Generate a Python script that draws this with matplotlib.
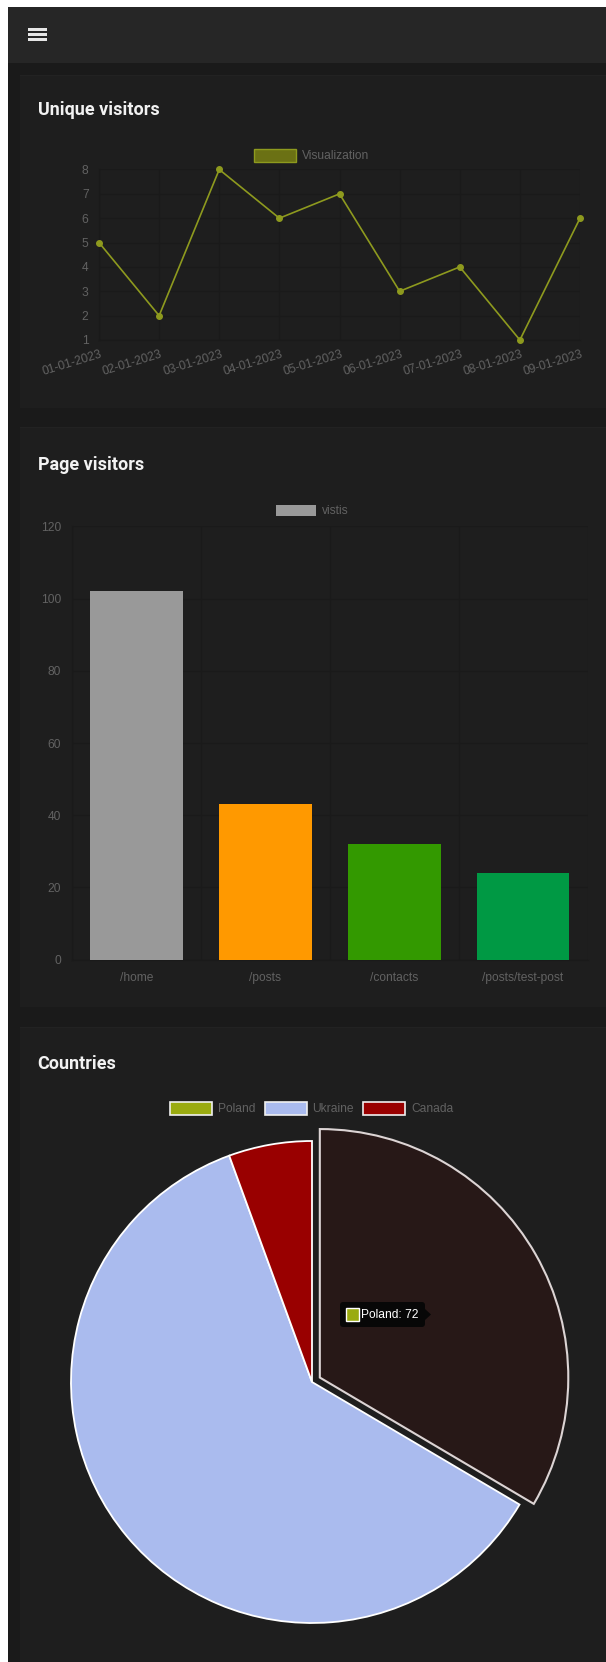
import matplotlib
matplotlib.use("Agg")
import matplotlib.pyplot as plt
from matplotlib.patches import Rectangle, FancyBboxPatch, Polygon
from matplotlib.transforms import ScaledTranslation

# ---------------- data ----------------
dates = ["01-01-2023", "02-01-2023", "03-01-2023", "04-01-2023", "05-01-2023",
         "06-01-2023", "07-01-2023", "08-01-2023", "09-01-2023"]
visitors = [5, 2, 8, 6, 7, 3, 4, 1, 6]
visitors_label = "Visualization"
visitor_yticks = [1, 2, 3, 4, 5, 6, 7, 8]

pages = ["/home", "/posts", "/contacts", "/posts/test-post"]
page_visits = [102, 43, 32, 24]
page_label = "vistis"
page_colors = ["#999999", "#ff9900", "#339900", "#009944"]
page_yticks = [0, 20, 40, 60, 80, 100, 120]

countries = ["Poland", "Ukraine", "Canada"]
country_values = [72, 131, 12]
country_colors = ["#9aab10", "#aabbee", "#990000"]
tooltip_text = "Poland: 72"

# ---------------- layout helpers ----------------
W, H = 606, 1662
PX = 0.72  # px -> pt at dpi 100
fig = plt.figure(figsize=(W / 100, H / 100), dpi=100)
fig.patch.set_facecolor("white")

TXT = "#626262"
GRID = "#1a1a1a"
CARD = "#1e1e1e"
FONT = ["Liberation Sans", "DejaVu Sans"]
TFONT = ["Roboto", "DejaVu Sans"]


def frac(x0, y0, x1, y1):
    return [x0 / W, 1 - y1 / H, (x1 - x0) / W, (y1 - y0) / H]


bg = fig.add_axes([0, 0, 1, 1], zorder=0)
bg.set_xlim(0, W)
bg.set_ylim(H, 0)
bg.axis("off")

bg.add_patch(Rectangle((8, 7), W - 8, H - 7, fc="#1a1a1a", ec="none"))
bg.add_patch(Rectangle((8, 7), W - 8, 56, fc="#262626", ec="none"))
for yy in (28.3, 33.3, 38.3):
    bg.add_patch(Rectangle((27.5, yy), 19, 2.4, fc="#e6e6e6", ec="none"))
for (y0, y1) in ((75, 408), (427, 1007), (1027, H)):
    bg.add_patch(Rectangle((20, y0), W - 20, y1 - y0, fc=CARD, ec="none"))
    bg.plot([20, W], [y0, y0], color="#222222", lw=0.8)

title_kw = dict(color="#f2f2f2", fontsize=18.0 * PX, fontweight="bold",
                family=TFONT, va="baseline", ha="left")
bg.text(37.5, 115, "Unique visitors", **title_kw)
bg.text(37.5, 470, "Page visitors", **title_kw)
bg.text(37.5, 1069, "Countries", **title_kw)

lab_kw = dict(color=TXT, fontsize=12 * PX, family=FONT, va="center", ha="left")

# legend line chart
bg.add_patch(Rectangle((254, 149), 42, 13, fc="#6b7114", ec="#8e9a1e", lw=1.0))
bg.text(301.5, 155.8, visitors_label, **lab_kw)
# legend bar chart
bg.add_patch(Rectangle((275.6, 505), 40.2, 11.4, fc=page_colors[0], ec="none"))
bg.text(322, 511, page_label, **lab_kw)
# legend pie chart
for x0, tx, name, col in zip((170, 265, 363), (218, 312, 411), countries, country_colors):
    bg.add_patch(Rectangle((x0, 1102), 42, 13, fc=col, ec="#f0f0f0", lw=1.2))
    bg.text(tx, 1108.8, name, **lab_kw)

# ---------------- line chart ----------------
ax1 = fig.add_axes(frac(99, 169.5, 580, 340), zorder=2)
ax1.set_facecolor("none")
xs = list(range(len(dates)))
ax1.plot(xs, visitors, color="#8e9a1e", lw=1.2, marker="o", ms=4.0,
         mfc="#8e9a1e", mec="#8e9a1e", clip_on=False, zorder=3)
ax1.set_xlim(0, len(dates) - 1)
ax1.set_ylim(1, 8)
ax1.set_xticks(xs)
ax1.set_yticks(visitor_yticks)
ax1.set_xticklabels(dates, rotation=17, ha="right", va="center",
                    rotation_mode="anchor", family=FONT, fontsize=12 * PX, color=TXT)
ax1.set_yticklabels([str(v) for v in visitor_yticks], family=FONT,
                    fontsize=12 * PX, color=TXT)
ax1.tick_params(axis="x", length=0, pad=10)
ax1.tick_params(axis="y", length=0, pad=7.5)
for lab in ax1.get_xticklabels():
    lab.set_transform(lab.get_transform() + ScaledTranslation(3 / 100, 0, fig.dpi_scale_trans))
ax1.grid(True, color=GRID, lw=1)
for s in ax1.spines.values():
    s.set_color(GRID)
ax1.spines["top"].set_visible(False)
ax1.spines["right"].set_visible(False)

# ---------------- bar chart ----------------
ax2 = fig.add_axes(frac(72, 526.4, 587.5, 959.6), zorder=2)
ax2.set_facecolor("none")
bx = list(range(len(pages)))
ax2.bar(bx, page_visits, width=0.72, color=page_colors, zorder=3)
ax2.set_xlim(-0.5, len(pages) - 0.5)
ax2.set_ylim(0, 120)
ax2.set_xticks(bx)
ax2.set_xticks([i - 0.5 for i in range(len(pages) + 1)], minor=True)
ax2.set_yticks(page_yticks)
ax2.set_xticklabels(pages, family=FONT, fontsize=12 * PX, color=TXT, va="center")
ax2.set_yticklabels([str(v) for v in page_yticks], family=FONT,
                    fontsize=12 * PX, color=TXT)
ax2.tick_params(axis="x", which="both", length=0, pad=13.5)
ax2.tick_params(axis="y", length=0, pad=8)
ax2.grid(True, axis="y", color=GRID, lw=1)
ax2.grid(True, axis="x", which="minor", color=GRID, lw=1)
ax2.grid(False, axis="x", which="major")
for s in ax2.spines.values():
    s.set_color(GRID)
ax2.spines["top"].set_visible(False)
ax2.spines["right"].set_visible(False)

# ---------------- pie chart ----------------
R = 241.0
ext = 290.0
ax3 = fig.add_axes(frac(312 - ext, 1382 - ext, 312 + ext, 1382 + ext), zorder=2)
ax3.set_facecolor("none")
wedges, _ = ax3.pie(country_values, colors=country_colors, startangle=90,
                    counterclock=False, explode=[9 / R, 0, 0], radius=1,
                    wedgeprops=dict(edgecolor="white", linewidth=1.3))
ax3.set_xlim(-ext / R, ext / R)
ax3.set_ylim(-ext / R, ext / R)
ax3.set_aspect("equal")
ax3.axis("off")
# hovered Poland slice
wedges[0].set_radius(1.031)
wedges[0].set_facecolor("#271817")
wedges[0].set_edgecolor("#dcd4d4")
wedges[0].set_linewidth(1.5)
for w in wedges:
    w.set_clip_on(False)

# ---------------- tooltip ----------------
ov = fig.add_axes([0, 0, 1, 1], zorder=5)
ov.set_xlim(0, W)
ov.set_ylim(H, 0)
ov.axis("off")
ov.set_facecolor("none")
ov.add_patch(FancyBboxPatch((340, 1302), 85, 25,
                            boxstyle="round,pad=0,rounding_size=3",
                            fc="#070707", ec="none"))
ov.add_patch(Polygon([(424.5, 1308.5), (431, 1314.5), (424.5, 1320.5)],
                     closed=True, fc="#070707", ec="none"))
ov.add_patch(Rectangle((346, 1308), 13, 13, fc=country_colors[0], ec="white", lw=1))
ov.text(361, 1314.8, tooltip_text, color="white", fontsize=12 * PX,
        family=FONT, va="center", ha="left")

fig.savefig("out.png", dpi=100, facecolor=fig.get_facecolor())
